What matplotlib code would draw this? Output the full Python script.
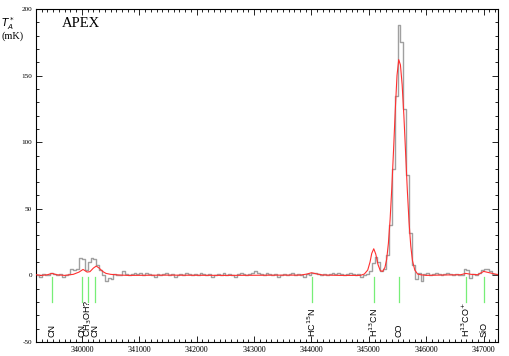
import numpy as np
import matplotlib
matplotlib.use("Agg")
import matplotlib.pyplot as plt
from matplotlib.ticker import MultipleLocator

# ---- data ----
chan_start = 339200.0
chan_width = 50.0
gray_vals = [
    0, -1, 1, 0, 0, 2, 1, 0, 1, -1,
    0, 1, 5, 4, 5, 13, 12, 4, 10, 13,
    12, 8, 4, 0, -4, -2, -3, 1, 0, 0,
    3, 1, 0, 1, 2, 1, 2, 0, 2, 1,
    0, -1, 1, 0, 1, 2, 0, 1, -1, 0,
    1, 0, 2, 1, 0, 1, 0, 2, 1, 0,
    1, -1, 0, 1, 0, 2, 0, 1, 0, -1,
    1, 2, 1, 0, 1, 2, 3, 2, 1, 0,
    2, 1, 0, 1, -1, 0, 1, 0, 1, 2,
    0, 1, 0, -1, 1, 0, 2, 2, 1, 0,
    1, 0, 1, 2, 1, 2, 1, 0, 1, 2,
    1, 0, 1, -1, 0, 1, 3, 9, 14, 10,
    3, 5, 15, 38, 80, 135, 188, 175, 125, 75,
    32, 8, -3, 2, -4, 1, 2, 0, 1, 2,
    1, 0, 1, 2, 1, 0, 1, 0, 0, 5,
    4, -2, 1, 0, 2, 4, 5, 5, 3, 1,
    1,
]

red_freq = [339200, 339300, 339400, 339480, 339560, 339700, 339850, 339950,
            340020, 340090, 340140, 340200, 340250, 340300, 340360, 340420,
            340500, 340650, 340800, 341500, 342500, 343500, 343800, 343920,
            344000, 344080, 344200, 344500, 344850, 344920, 344980, 345020,
            345050, 345085, 345120, 345160, 345200, 345240, 345280, 345310,
            345340, 345370, 345400, 345430, 345460, 345490, 345520, 345550,
            345580, 345610, 345640, 345670, 345700, 345730, 345760, 345800,
            345850, 345900, 346000, 346300, 346600, 346690, 346780, 346900,
            347000, 347100, 347250]
red_vals = [0.5, 0.0, 0.5, 1.5, 0.5, 0.0, 0.8, 2.5,
            4.5, 2.5, 2.8, 5.5, 7.0, 5.5, 3.0, 1.5,
            0.8, 0.3, 0.0, 0.2, 0.0, 0.2, 0.2, 1.0,
            2.0, 1.2, 0.3, 0.0, 0.0, 1.0, 4.0, 10.0,
            16.5, 20.0, 16.0, 8.0, 3.5, 3.0, 6.0, 12.0,
            24.0, 42.0, 66.0, 94.0, 124.0, 150.0, 162.0, 158.0,
            143.0, 120.0, 92.0, 64.0, 40.0, 22.0, 11.0, 4.0,
            1.0, 0.5, 0.0, 0.3, 0.5, 1.5, 0.8, 0.5,
            3.0, 2.0, 0.5]

line_freqs = [339480, 340010, 340110, 340220, 344010, 345085, 345520, 346690, 347000]
line_labels = ["CN", "CN", "CH$_3$OH?", "CN", "HC$^{15}$N", "H$^{13}$CN", "CO",
               "H$^{13}$CO$^{+}$", "SiO"]

xticks = [340000, 341000, 342000, 343000, 344000, 345000, 346000, 347000]
yticks = [-50, 0, 50, 100, 150, 200]

# ---- figure ----
plt.rcParams['font.family'] = ['Liberation Serif', 'DejaVu Serif']
fig = plt.figure(figsize=(5.09, 3.56), dpi=100)
ax = fig.add_axes([36/509, 1-342/356, (498-36)/509, (342-9)/356])

centers = chan_start + chan_width/2 + chan_width*np.arange(len(gray_vals))
ax.step(centers, gray_vals, where='mid', color='#a0a0a0', lw=1.0, zorder=2)
ax.plot(red_freq, red_vals, color='#ff3030', lw=0.8, zorder=3)

for f, lab in zip(line_freqs, line_labels):
    ax.plot([f, f], [-1, -20], color='#77ee77', lw=0.9, zorder=1)
    ax.text(f, -46.5, lab, rotation=90, ha='center', va='bottom', fontsize=6.5,
            family=['Liberation Sans', 'DejaVu Sans'])

ax.set_xlim(339200, 347250)
ax.set_ylim(-50, 200)
ax.set_xticks(xticks)
ax.set_xticklabels([str(t) for t in xticks])
ax.set_yticks(yticks)
ax.set_yticklabels([str(t) for t in yticks])
ax.xaxis.set_minor_locator(MultipleLocator(100))
ax.yaxis.set_minor_locator(MultipleLocator(10))
ax.tick_params(which='both', direction='in', top=True, right=True, width=0.6, pad=3)
ax.tick_params(axis='x', labelsize=5.8)
ax.tick_params(axis='y', labelsize=5.2)
ax.tick_params(which='major', length=4)
ax.tick_params(which='minor', length=2)
for s in ax.spines.values():
    s.set_linewidth(0.8)

ax.text(0.055, 0.975, "APEX", transform=ax.transAxes, fontsize=10.5, ha='left', va='top')
fig.text(1/509, 1-15/356, "$T_A^*$\n(mK)", fontsize=7.5, ha='left', va='top',
         linespacing=1.0)

fig.savefig("out.png", dpi=100)
